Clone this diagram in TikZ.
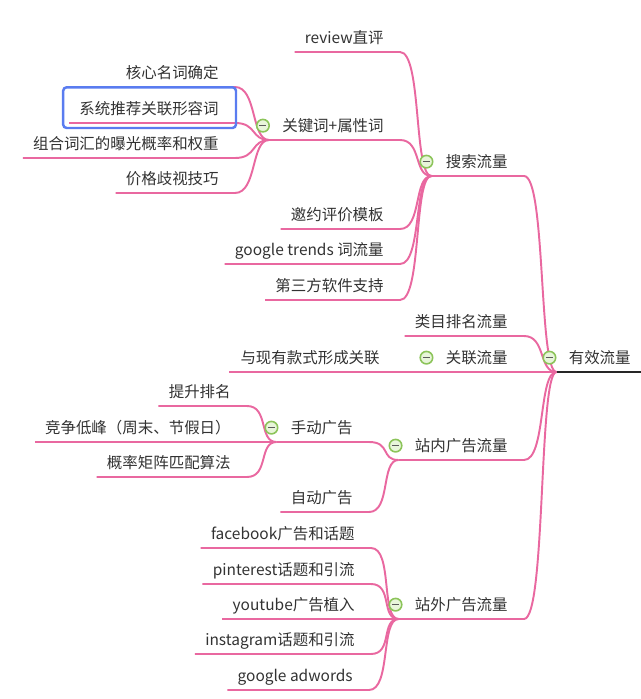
\documentclass[tikz,border=0pt]{standalone}
\usepackage{fontspec}
\newfontfamily\cjk{Noto Sans CJK SC}
\definecolor{branchpink}{RGB}{233,104,160}
\definecolor{textgray}{RGB}{50,50,50}
\definecolor{iconline}{RGB}{140,196,90}
\definecolor{iconfill}{RGB}{232,245,218}
\definecolor{selblue}{RGB}{90,124,240}

\begin{document}
\begin{tikzpicture}[x=0.02cm,y=-0.02cm,
    topic/.style={anchor=south east,inner xsep=0pt,inner ysep=0.16cm,text height=0.24cm,text depth=0pt,
      text=textgray,font=\cjk\fontsize{8.8pt}{10pt}\selectfont},
    branch/.style={draw=branchpink,line width=1.1pt},
    fold/.style={circle,draw=iconline,line width=0.9pt,fill=iconfill,minimum size=0.25cm,inner sep=0pt,
      path picture={\draw[textgray!80,line width=0.9pt] ([xshift=-0.07cm]path picture bounding box.center) -- ([xshift=0.07cm]path picture bounding box.center);}}]
    \useasboundingbox (0,0) rectangle (640,699);
    % Root
    \node[topic] (root) at (631,372) {有效流量};
    \coordinate (rj) at ([xshift=-0.24cm]root.south west);
    \draw[black!85,line width=1.2pt] (rj) -- ([xshift=0.3cm]root.south east);
    % Main topics
    \node[topic] (search) at (508,176) {搜索流量};
    \node[topic] (cat) at (508,336) {类目排名流量};
    \node[topic] (rel) at (508,372) {关联流量};
    \node[topic] (inad) at (508,460) {站内广告流量};
    \node[topic] (outad) at (508,619) {站外广告流量};
    \coordinate (sj) at ([xshift=-0.28cm]search.south west);
    \coordinate (lj) at ([xshift=-0.7cm]rel.south west);
    \coordinate (ij) at ([xshift=-0.32cm]inad.south west);
    \coordinate (oj) at ([xshift=-0.32cm]outad.south west);
    % Search flow
    \node[topic] (rev) at (384,52) {review直评};
    \node[topic] (kw) at (384,140) {关键词+属性词};
    \node[topic] (tpl) at (384,229) {邀约评价模板};
    \node[topic] (gt) at (384,264) {google trends 词流量};
    \node[topic] (soft) at (384,300) {第三方软件支持};
    \coordinate (kj) at ([xshift=-0.26cm]kw.south west);
    \node[topic] (core) at (219,87) {核心名词确定};
    \node[topic] (rec) at (219,123) {系统推荐关联形容词};
    \node[topic] (comb) at (219,158) {组合词汇的曝光概率和权重};
    \node[topic] (price) at (219,193) {价格歧视技巧};
    % Related flow
    \node[topic] (link) at (380,372) {与现有款式形成关联};
    % On-site ads
    \node[topic] (manual) at (353,442) {手动广告};
    \node[topic] (auto) at (353,512) {自动广告};
    \coordinate (mj) at ([xshift=-0.28cm]manual.south west);
    \node[topic] (rank) at (231,406) {提升排名};
    \node[topic] (peak) at (231,442) {竞争低峰（周末、节假日）};
    \node[topic] (algo) at (231,477) {概率矩阵匹配算法};
    % Off-site ads
    \node[topic] (fb) at (355,548) {facebook广告和话题};
    \node[topic] (pin) at (355,584) {pinterest话题和引流};
    \node[topic] (yt) at (355,619) {youtube广告植入};
    \node[topic] (ins) at (355,654) {instagram话题和引流};
    \node[topic] (gad) at (353,690) {google adwords};
    % Branches
    \foreach \n/\j in {rev/sj,tpl/sj,gt/sj,soft/sj,core/kj,rec/kj,comb/kj,price/kj,rank/mj,peak/mj,algo/mj,auto/ij,fb/oj,pin/oj,yt/oj,ins/oj,gad/oj,cat/rj}
        \draw[branch] ([xshift=-0.2cm]\n.south west) -- ([xshift=0.32cm]\n.south east) .. controls +(22,0) and +(-18,0) .. (\j);
    \foreach \n/\s/\j in {kw/kj/sj,search/sj/rj,manual/mj/ij,inad/ij/rj,outad/oj/rj,rel/lj/rj}
        \draw[branch] (\s) -- ([xshift=0.32cm]\n.south east) .. controls +(22,0) and +(-18,0) .. (\j);
    \draw[branch] ([xshift=-0.22cm]link.south west) -- (lj);
    % Selection box
    \draw[selblue,line width=1.4pt,rounded corners=2pt] ([xshift=-0.32cm,yshift=-0.1cm]rec.south west) rectangle ([xshift=0.34cm,yshift=0.14cm]rec.north east);
    % Fold icons
    \foreach \n in {root,search,kw,rel,manual,inad,outad}
        \node[fold] (\n-fold) at ([xshift=-0.38cm]\n.west) {};
\end{tikzpicture}
\end{document}
